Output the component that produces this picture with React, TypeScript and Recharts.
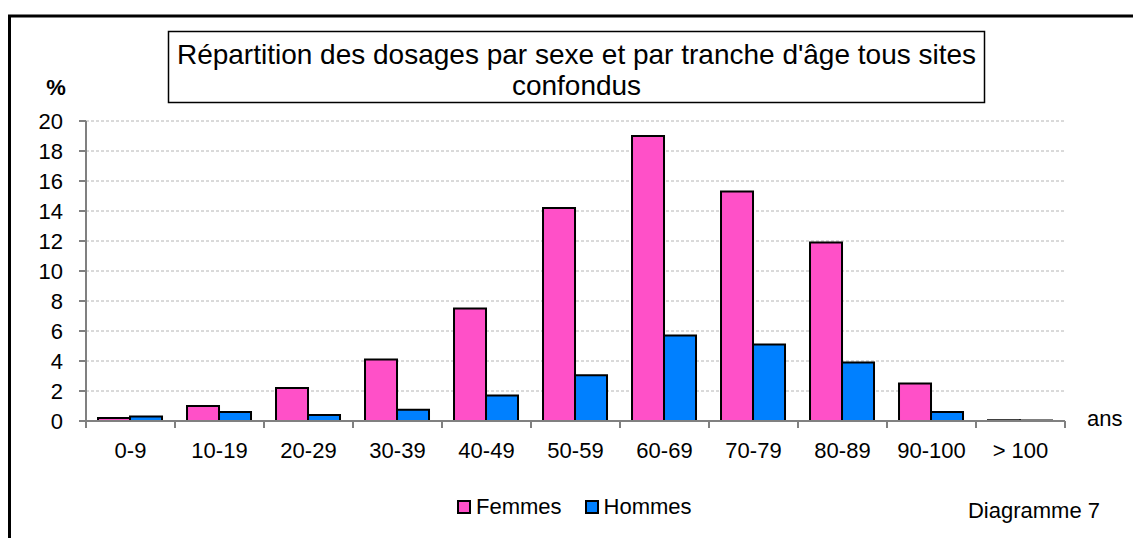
import React from 'react';
import { BarChart, Bar, XAxis, YAxis, CartesianGrid, Legend } from 'recharts';

const categories = ['0-9', '10-19', '20-29', '30-39', '40-49', '50-59', '60-69', '70-79', '80-89', '90-100', '> 100'];
const femmes = [0.2, 1.0, 2.2, 4.1, 7.5, 14.2, 19.0, 15.3, 11.9, 2.5, 0.05];
const hommes = [0.3, 0.6, 0.4, 0.75, 1.7, 3.05, 5.7, 5.1, 3.9, 0.6, 0.03];
const yTicks = [0, 2, 4, 6, 8, 10, 12, 14, 16, 18, 20];

const data = categories.map((c, i) => ({ cat: c, Femmes: femmes[i], Hommes: hommes[i] }));

const PINK = '#FF50C8';
const BLUE = '#0080FF';
const FONT = "'Liberation Sans', Arial, sans-serif";
const TICK_SIZE = 7;
const TICK_MARGIN = 14;

const XTick = (props: any) => {
  const { x, y, payload, index, visibleTicksCount } = props;
  const off = payload && payload.offset ? payload.offset : 44.5;
  const y0 = y - TICK_SIZE - TICK_MARGIN;
  const last = index === (visibleTicksCount ?? categories.length) - 1;
  return (
    <g>
      <line x1={x - off} x2={x - off} y1={y0} y2={y0 + TICK_SIZE} stroke="#808080" strokeWidth={2} />
      {last && <line x1={x + off} x2={x + off} y1={y0} y2={y0 + TICK_SIZE} stroke="#808080" strokeWidth={2} />}
      <text x={x} y={y} dy="0.71em" textAnchor="middle" fontSize={22} fill="#000" fontFamily={FONT}>
        {payload.value}
      </text>
    </g>
  );
};

const renderLegend = (props: any) => {
  const { payload } = props;
  return (
    <div style={{ display: 'flex', alignItems: 'center', fontFamily: FONT, fontSize: 22, lineHeight: '22px', color: '#000' }}>
      {(payload || []).map((p: any, i: number) => (
        <div key={i} style={{ display: 'flex', alignItems: 'center', marginRight: i === 0 ? 23 : 0 }}>
          <div style={{ width: 14, height: 14, boxSizing: 'border-box', border: '2px solid #000', background: p.color, marginRight: 5 }} />
          <span>{p.value}</span>
        </div>
      ))}
    </div>
  );
};

export default function App() {
  return (
    <div style={{ position: 'absolute', left: 0, top: 0, width: 1133, height: 538, background: '#fff', fontFamily: FONT }}>
      <BarChart
        width={1133}
        height={538}
        data={data}
        margin={{ top: 121, right: 68, bottom: 87, left: 0 }}
        barCategoryGap="13.5%"
        barGap={0}
      >
        <CartesianGrid vertical={false} stroke="#B4B4B4" strokeDasharray="3 2" />
        <XAxis
          dataKey="cat"
          height={30}
          axisLine={{ stroke: '#808080', strokeWidth: 2 }}
          tickLine={false}
          tickSize={TICK_SIZE}
          tickMargin={TICK_MARGIN}
          tick={<XTick />}
          interval={0}
        />
        <YAxis
          width={86}
          domain={[0, 20]}
          ticks={yTicks}
          interval={0}
          axisLine={{ stroke: '#808080', strokeWidth: 2 }}
          tickLine={{ stroke: '#808080', strokeWidth: 2 }}
          tickSize={7}
          tickMargin={16}
          tick={{ fontSize: 22, fill: '#000', fontFamily: FONT }}
        />
        <Legend
          layout="horizontal"
          verticalAlign="middle"
          align="center"
          wrapperStyle={{ left: 457, top: 496, width: 300, height: 24 }}
          content={renderLegend}
        />
        <Bar dataKey="Femmes" fill={PINK} stroke="#000" strokeWidth={2} isAnimationActive={false} />
        <Bar dataKey="Hommes" fill={BLUE} stroke="#000" strokeWidth={2} isAnimationActive={false} />
      </BarChart>
      <svg width={1133} height={538} style={{ position: 'absolute', left: 0, top: 0, pointerEvents: 'none' }}>
        <line x1={9.5} y1={16} x2={9.5} y2={538} stroke="#000" strokeWidth={3} />
        <line x1={8} y1={16} x2={1133} y2={16} stroke="#000" strokeWidth={3} />
        <rect x={168.5} y={31.5} width={816} height={71} fill="#fff" stroke="#000" strokeWidth={1.5} />
        <text x={576.5} y={64} textAnchor="middle" fontSize={28} fontFamily={FONT} fill="#000">
          Répartition des dosages par sexe et par tranche d'âge tous sites
        </text>
        <text x={576.5} y={95} textAnchor="middle" fontSize={28} fontFamily={FONT} fill="#000">
          confondus
        </text>
        <text x={56} y={95} textAnchor="middle" fontSize={22} fontWeight="bold" fontFamily={FONT} fill="#000">%</text>
        <text x={1087} y={426} fontSize={22} fontFamily={FONT} fill="#000">ans</text>
        <text x={1100} y={518} textAnchor="end" fontSize={22} fontFamily={FONT} fill="#000">Diagramme 7</text>
      </svg>
    </div>
  );
}
